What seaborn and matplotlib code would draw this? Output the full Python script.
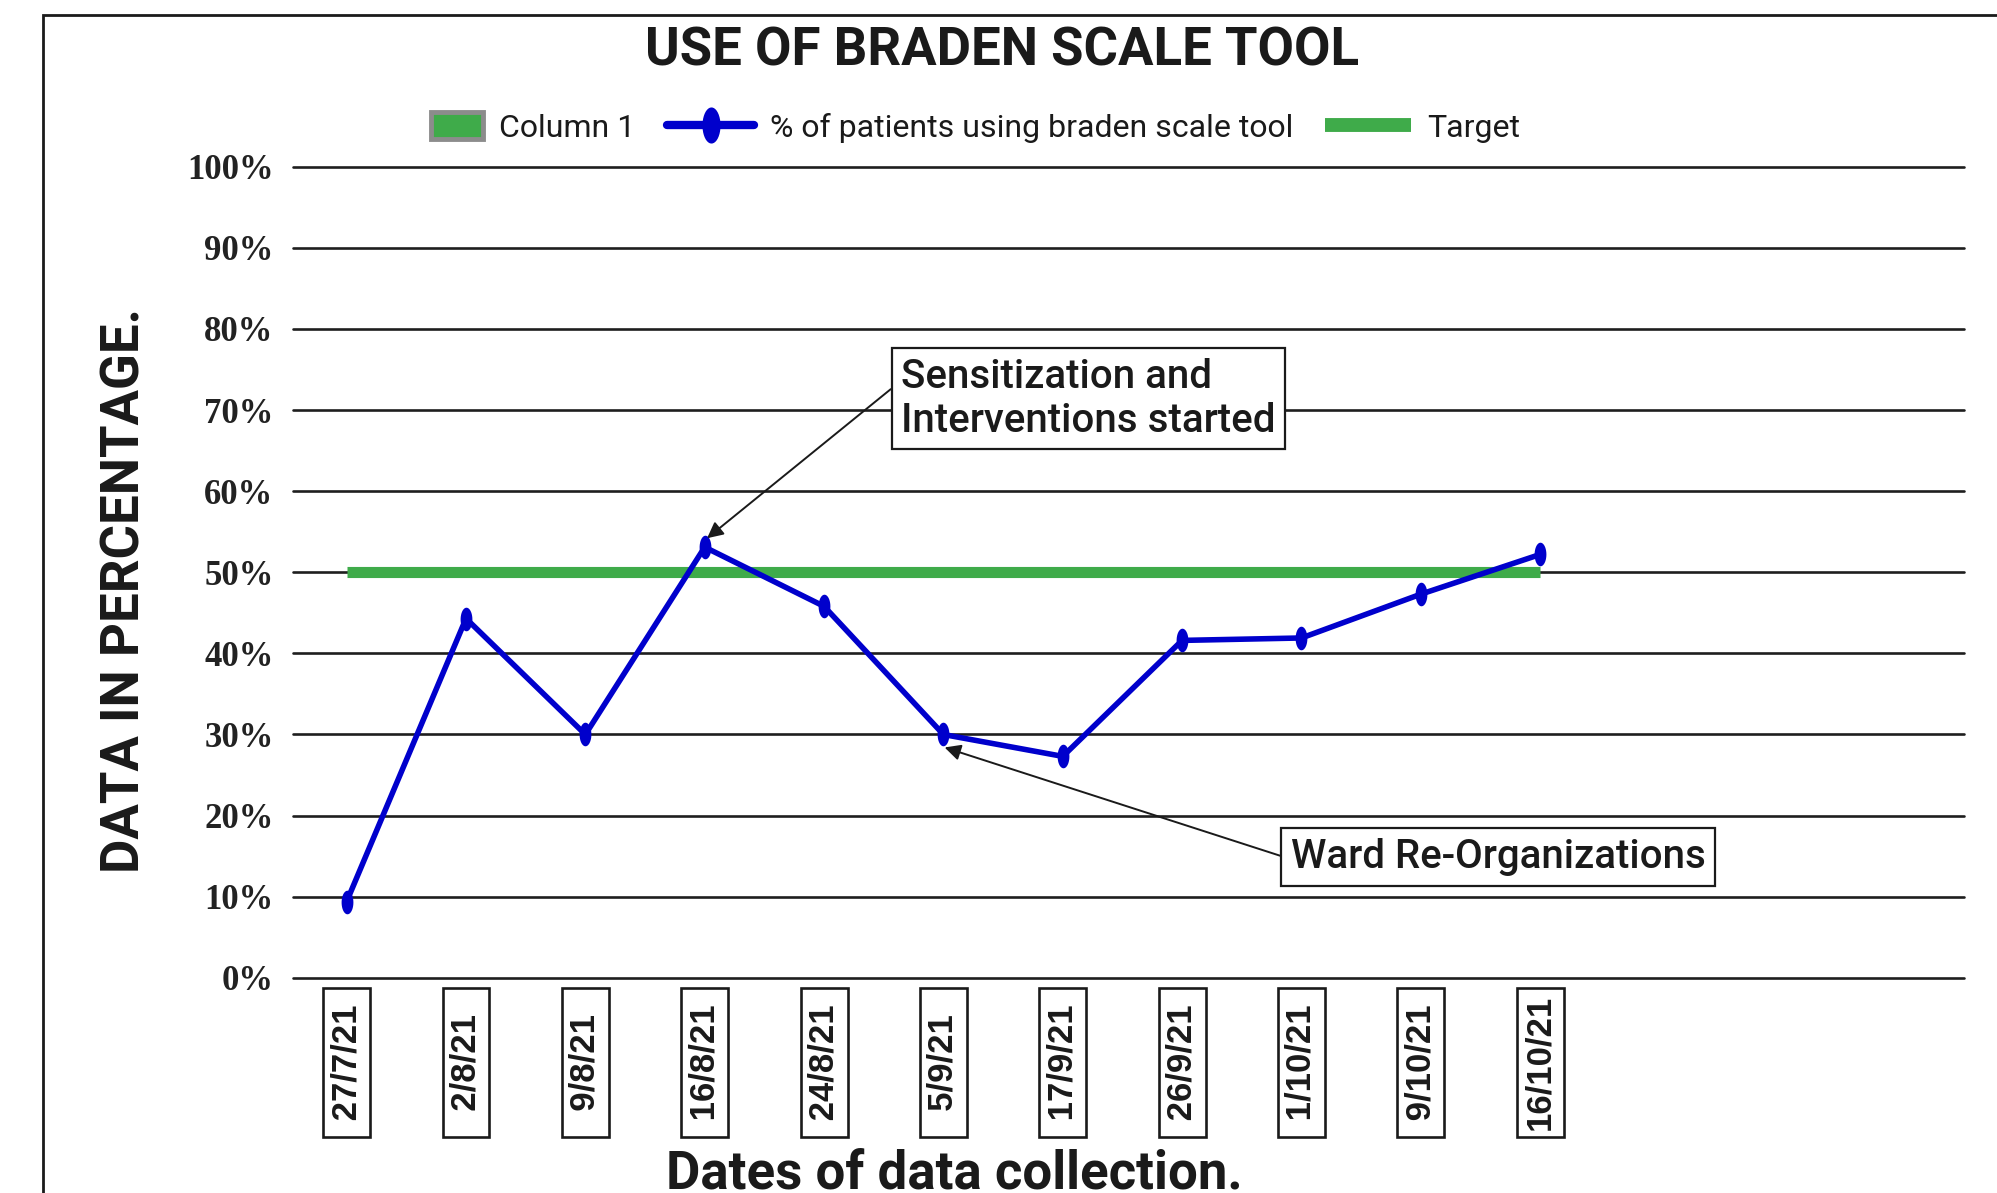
import numpy as np
import matplotlib
matplotlib.use("Agg")
import matplotlib.pyplot as plt
import matplotlib.ticker as mticker
from matplotlib.patches import Patch, Rectangle
from matplotlib.lines import Line2D
from matplotlib.path import Path
from matplotlib.legend_handler import HandlerPatch
import seaborn as sns

# Data
dates = ["27/7/21", "2/8/21", "9/8/21", "16/8/21", "24/8/21", "5/9/21",
         "17/9/21", "26/9/21", "1/10/21", "9/10/21", "16/10/21"]
pct_braden = [9.4, 44.3, 30.0, 53.1, 45.8, 30.0, 27.3, 41.6, 41.9, 47.3, 52.2]
target = 50
y_ticks = [0, 10, 20, 30, 40, 50, 60, 70, 80, 90, 100]

BLUE = "#0000cc"
GREEN = "#3fab4a"
INK = "#1a1a1a"

sns.set_theme(style="white")
plt.rcParams["font.family"] = ["Roboto", "DejaVu Sans"]

fig = plt.figure(figsize=(19.97, 11.93), dpi=100)
ax = fig.add_axes([0.1467, 0.1804, 0.8367, 0.6798])

# vertical ellipse marker
t = np.linspace(0, 2 * np.pi, 40)
ellipse = Path(np.column_stack([0.5 * np.cos(t), np.sin(t)]), closed=True)

x = np.arange(len(dates))
ax.hlines(target, x[0], x[-1], color=GREEN, lw=8, zorder=2,
          capstyle="butt")
sns.lineplot(x=x, y=pct_braden, ax=ax, color=BLUE, lw=4, marker=ellipse,
             markersize=17, markeredgewidth=0, zorder=3)

ax.set_ylim(0, 100)
ax.set_xlim(-0.45, 13.55)
ax.set_yticks(y_ticks)
ax.yaxis.set_major_formatter(mticker.FuncFormatter(lambda v, _: f"{v:.0f}%"))
ax.grid(axis="y", color="#1e1e1e", lw=1.9)
ax.grid(axis="x", visible=False)
for gl in ax.get_ygridlines():
    gl.set_clip_on(False)
for s in ax.spines.values():
    s.set_visible(False)
ax.tick_params(axis="y", length=0, pad=14)
ax.tick_params(axis="x", length=0, pad=12)
for lab in ax.get_yticklabels():
    lab.set_fontfamily("Liberation Serif")
    lab.set_fontweight("bold")
    lab.set_fontsize(25)
    lab.set_color("#222222")


# pad date labels with spaces so every box comes out the same size
def pad_label(s, units_max=14):
    units = sum(2 if c.isdigit() else 1 for c in s)
    extra = units_max - units
    return " " * (extra // 2) + s + " " * (extra - extra // 2)


ax.set_xticks(x)
ax.set_xticklabels([pad_label(d) for d in dates], rotation=90,
                   fontfamily="Liberation Sans", fontweight="bold",
                   fontsize=25, color=INK)
for lab in ax.get_xticklabels():
    lab.set_bbox(dict(facecolor="white", edgecolor=INK, lw=1.9, pad=5))

# annotations
box = dict(facecolor="white", edgecolor=INK, lw=1.6, pad=7)
ax.annotate("Sensitization and\nInterventions started",
            xy=(3.02, 54.2), xytext=(6.215, 71.4),
            ha="center", va="center", multialignment="left",
            fontsize=29, fontweight="medium", color=INK, bbox=box,
            arrowprops=dict(arrowstyle="-|>", color=INK, lw=1.4,
                            mutation_scale=24, relpos=(0, 0.72),
                            shrinkA=0, shrinkB=0))
ax.annotate("Ward Re-Organizations",
            xy=(5.01, 28.4), xytext=(9.65, 14.9),
            ha="center", va="center",
            fontsize=29, fontweight="medium", color=INK, bbox=box,
            arrowprops=dict(arrowstyle="-|>", color=INK, lw=1.4,
                            mutation_scale=24, relpos=(0, 0.44),
                            shrinkA=0, shrinkB=0))

# titles
fig.text(0.502, 0.957, "USE OF BRADEN SCALE TOOL", ha="center", va="center",
         fontsize=38, fontweight="bold", color=INK)
fig.text(0.0625, 0.505, "DATA IN PERCENTAGE.", rotation=90, ha="center",
         va="center", fontsize=38, fontweight="bold", color=INK)
fig.text(0.478, 0.037, "Dates of data collection.", ha="center", va="top",
         fontsize=38, fontweight="bold", color=INK)


# legend: square swatch for the empty "Column 1" series, next to its text
def square_patch(legend, orig_handle, xdescent, ydescent, width, height,
                 fontsize):
    return Rectangle((-xdescent + width * 0.4, -ydescent - 0.1 * height),
                     width * 0.6, height * 1.2)


handles = [
    Patch(facecolor=GREEN, edgecolor="#8c8c8c", lw=3.5),
    Line2D([], [], color=BLUE, lw=6, marker=ellipse, markersize=26,
           markeredgewidth=0),
    Line2D([], [], color=GREEN, lw=10, solid_capstyle="butt"),
]
labels = ["Column 1", "% of patients using braden scale tool", "Target"]
fig.legend(handles, labels, loc="center", bbox_to_anchor=(0.48, 0.893),
           ncol=3, frameon=False, fontsize=23, handlelength=2.7,
           columnspacing=1.0, handletextpad=0.5, labelcolor=INK,
           handler_map={Patch: HandlerPatch(patch_func=square_patch)})

# outer frame
fig.add_artist(Rectangle((0.0217, -0.5), 1.5, 0.5 + 0.9872, fill=False,
                         edgecolor=INK, lw=2, transform=fig.transFigure))

fig.savefig("out.png", dpi=100)
